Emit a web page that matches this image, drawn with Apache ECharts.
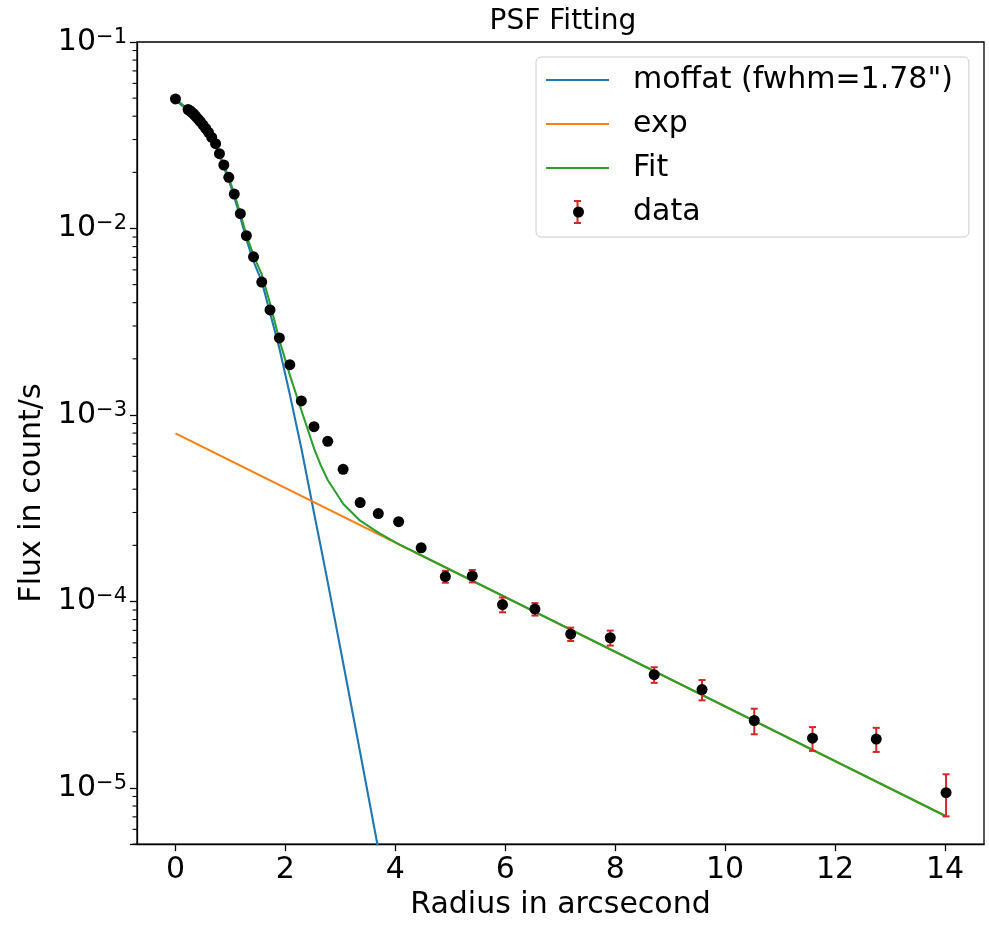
<!DOCTYPE html>
<html><head><meta charset="utf-8">
<script src="https://cdn.jsdelivr.net/npm/echarts@6/dist/echarts.min.js"></script>
<style>html,body{margin:0;padding:0;background:#fff}#c{width:989px;height:925px}</style>
</head><body><div id="c"></div>
<script>
// ---- data ----
const radius = [0, 0.23, 0.26, 0.28, 0.31, 0.34, 0.37, 0.41, 0.45, 0.50, 0.55, 0.60, 0.66, 0.73, 0.80, 0.88, 0.97, 1.07, 1.18, 1.29, 1.42, 1.57, 1.72, 1.89, 2.08, 2.29, 2.52, 2.77, 3.05, 3.36, 3.69, 4.06, 4.47, 4.91, 5.40, 5.95, 6.54, 7.19, 7.91, 8.71, 9.58, 10.53, 11.59, 12.75, 14.02];
const flux = [0.0495, 0.0434, 0.0429, 0.0424, 0.0416, 0.0409, 0.0399, 0.0387, 0.0375, 0.0359, 0.0344, 0.0328, 0.0308, 0.0285, 0.0252, 0.0219, 0.0188, 0.0153, 0.0120, 0.00915, 0.00705, 0.00516, 0.00366, 0.00259, 0.00186, 0.00119, 0.000865, 0.000722, 0.000511, 0.000339, 0.000296, 0.000268, 0.000194, 0.000136, 0.000137, 0.0000963, 0.0000910, 0.0000669, 0.0000639, 0.0000405, 0.0000337, 0.0000230, 0.0000185, 0.0000183, 0.00000944];
const fluxErr = [0.0004, 0.0003, 0.0003, 0.0003, 0.0003, 0.0003, 0.0003, 0.0003, 0.0003, 0.0003, 0.0003, 0.0003, 0.0003, 0.0002, 0.0002, 0.0002, 0.0002, 0.00015, 0.00012, 0.0001, 0.00008, 0.00006, 0.00005, 0.00004, 0.00003, 0.00002, 0.000018, 0.000016, 0.000014, 0.000012, 0.000011, 0.000010, 0.000008, 0.0000100, 0.0000105, 0.0000088, 0.0000070, 0.0000055, 0.0000059, 0.0000039, 0.0000042, 0.0000036, 0.0000027, 0.0000027, 0.0000024];

const modelRadius = [0, 0.23, 0.37, 0.50, 0.60, 0.73, 0.88, 0.97, 1.07, 1.18, 1.29, 1.42, 1.57, 1.72, 1.89, 2.08, 2.29, 2.52, 2.64, 2.77, 3.05, 3.36, 3.69, 4.06, 4.47, 14.02];
const moffatFlux = [0.0487, 0.0430, 0.0393, 0.0353, 0.0322, 0.0279, 0.0213, 0.0182, 0.0147, 0.0115, 0.00873, 0.00666, 0.00520, 0.00353, 0.00228, 0.00129, 0.000663, 0.000299, 0.000199, 0.000127, 0.0000469, 0.0000155, 0.0000047];
const fitFlux = [0.0495, 0.0437, 0.0400, 0.0360, 0.0328, 0.0285, 0.0219, 0.0188, 0.0153, 0.0120, 0.00925, 0.00715, 0.00567, 0.00397, 0.00252, 0.00164, 0.00106, 0.000663, 0.000540, 0.000448, 0.000334, 0.000271, 0.000234, 0.000203, 0.000177, 0.00000705];
const expRadius = [0, 14.02];
const expFlux = [0.000797, 0.00000705];

const xTicks = [0, 2, 4, 6, 8, 10, 12, 14];
const yMinorMantissa = [2, 3, 4, 5, 6, 7, 8, 9];
const yMinorExponent = [-6, -5, -4, -3, -2];

const X_MIN = -0.70, X_MAX = 14.71, Y_MIN = 5e-6, Y_MAX = 0.1;
const FONT = 'DejaVu Sans';

const yMinorTicks = [];
yMinorExponent.forEach(e => yMinorMantissa.forEach(m => {
  const v = m * Math.pow(10, e);
  if (v >= Y_MIN * 0.999 && v <= Y_MAX) yMinorTicks.push(v);
}));

const pairs = (xs, ys) => ys.map((y, i) => [xs[i], y]);
const LINE_ICON = 'path://M0,0 H60 V2 H0 Z';

const chart = echarts.init(document.getElementById('c'), null, {renderer: 'canvas'});
chart.setOption({
  animation: false,
  backgroundColor: '#ffffff',
  title: {
    text: 'PSF Fitting', left: 563, top: 8, padding: 0, textAlign: 'center',
    textStyle: {fontFamily: FONT, fontSize: 28, fontWeight: 'normal', color: '#000'}
  },
  grid: {left: 137, right: 5, top: 42, bottom: 75, show: true, borderColor: '#000', borderWidth: 1.3, backgroundColor: 'transparent'},
  xAxis: {
    type: 'value', min: X_MIN, max: X_MAX, minInterval: 2, maxInterval: 2,
    name: 'Radius in arcsecond', nameLocation: 'middle', nameGap: 40,
    nameTextStyle: {fontFamily: FONT, fontSize: 30, color: '#000'},
    axisLine: {onZero: false, lineStyle: {color: '#000', width: 1.3}},
    axisTick: {show: true, length: 7, lineStyle: {color: '#000', width: 1.3}, customValues: xTicks},
    axisLabel: {fontFamily: FONT, fontSize: 30, color: '#000', margin: 11, customValues: xTicks},
    splitLine: {show: false}
  },
  yAxis: {
    type: 'log', logBase: 10, min: Y_MIN, max: Y_MAX,
    name: 'Flux in count/s', nameLocation: 'middle', nameGap: 82, nameRotate: 90,
    nameTextStyle: {fontFamily: FONT, fontSize: 30, color: '#000', padding: [0, 100, 0, 0]},
    axisLine: {onZero: false, lineStyle: {color: '#000', width: 1.3}},
    axisTick: {show: true, length: 7, lineStyle: {color: '#000', width: 1.3}},
    axisLabel: {
      margin: 10,
      formatter: function (v) {
        const e = Math.round(Math.log10(v));
        if (Math.abs(v - Math.pow(10, e)) / v > 1e-6) return '';
        return '{b|10}{s|' + (e < 0 ? '\u2212' : '') + Math.abs(e) + '}';
      },
      rich: {
        b: {fontFamily: FONT, fontSize: 30, color: '#000', lineHeight: 30, verticalAlign: 'middle'},
        s: {fontFamily: FONT, fontSize: 21, color: '#000', lineHeight: 14, verticalAlign: 'top'}
      }
    },
    splitLine: {show: false}
  },
  legend: [{
    orient: 'vertical', left: 536, top: 57, z: 10,
    padding: [8, 16, 10, 10],
    itemWidth: 63, itemHeight: 24, itemGap: 14,
    selectedMode: false,
    backgroundColor: 'rgba(255,255,255,0.85)', borderColor: '#cccccc', borderWidth: 1, borderRadius: 5,
    textStyle: {fontFamily: FONT, fontSize: 30, color: '#000', lineHeight: 30, padding: [0, 0, 0, 19]},
    data: [
      {name: 'moffat (fwhm=1.78")', icon: LINE_ICON, itemStyle: {color: '#1f77b4'}},
      {name: 'exp', icon: LINE_ICON, itemStyle: {color: '#ff7f0e'}},
      {name: 'Fit', icon: LINE_ICON, itemStyle: {color: '#2ca02c'}},
      {name: 'data', icon: 'path://M0,0 H7 V2 H4.5 V22 H7 V24 H0 V22 H2.5 V2 H0 Z', itemStyle: {color: '#d62728'}}
    ]
  }, {
    orient: 'vertical', left: 573, top: 206.5, z: 11,
    padding: 0, itemWidth: 11, itemHeight: 11, selectedMode: false,
    formatter: function () { return ''; },
    textStyle: {fontSize: 1, lineHeight: 11},
    data: [{name: 'data', icon: 'circle', itemStyle: {color: '#000', opacity: 1}}]
  }],
  series: [
    {
      name: 'moffat (fwhm=1.78")', type: 'line', symbol: 'none', z: 2, clip: true,
      lineStyle: {color: '#1f77b4', width: 2.1}, itemStyle: {color: '#1f77b4'},
      data: pairs(modelRadius, moffatFlux)
    },
    {
      name: 'exp', type: 'line', symbol: 'none', z: 2, clip: true,
      lineStyle: {color: '#ff7f0e', width: 2.1}, itemStyle: {color: '#ff7f0e'},
      data: pairs(expRadius, expFlux)
    },
    {
      name: 'Fit', type: 'line', symbol: 'none', z: 2, clip: true,
      lineStyle: {color: '#2ca02c', width: 2.1}, itemStyle: {color: '#2ca02c'},
      data: pairs(modelRadius, fitFlux)
    },
    {
      name: 'errorbars', type: 'custom', z: 3, silent: true,
      data: flux.map((f, i) => [radius[i], f - fluxErr[i], f + fluxErr[i]]),
      renderItem: function (params, api) {
        const lo = api.coord([api.value(0), api.value(1)]);
        const hi = api.coord([api.value(0), api.value(2)]);
        const c = 3.5;
        const st = {stroke: '#d62728', lineWidth: 2};
        return {type: 'group', children: [
          {type: 'line', shape: {x1: lo[0], y1: lo[1], x2: hi[0], y2: hi[1]}, style: st},
          {type: 'line', shape: {x1: lo[0] - c, y1: lo[1], x2: lo[0] + c, y2: lo[1]}, style: st},
          {type: 'line', shape: {x1: hi[0] - c, y1: hi[1], x2: hi[0] + c, y2: hi[1]}, style: st}
        ]};
      }
    },
    {
      name: 'data', type: 'scatter', z: 4, symbol: 'circle', symbolSize: 11,
      itemStyle: {color: '#000', opacity: 1},
      data: pairs(radius, flux)
    },
    {
      name: 'yMinorTicks', type: 'custom', z: 5, silent: true, clip: false,
      data: yMinorTicks.map(v => [X_MIN, v]),
      renderItem: function (params, api) {
        const p = api.coord([api.value(0), api.value(1)]);
        return {type: 'line', shape: {x1: p[0] - 4.5, y1: p[1], x2: p[0], y2: p[1]}, style: {stroke: '#000', lineWidth: 1.1}};
      }
    }
  ]
});
</script>
</body></html>
